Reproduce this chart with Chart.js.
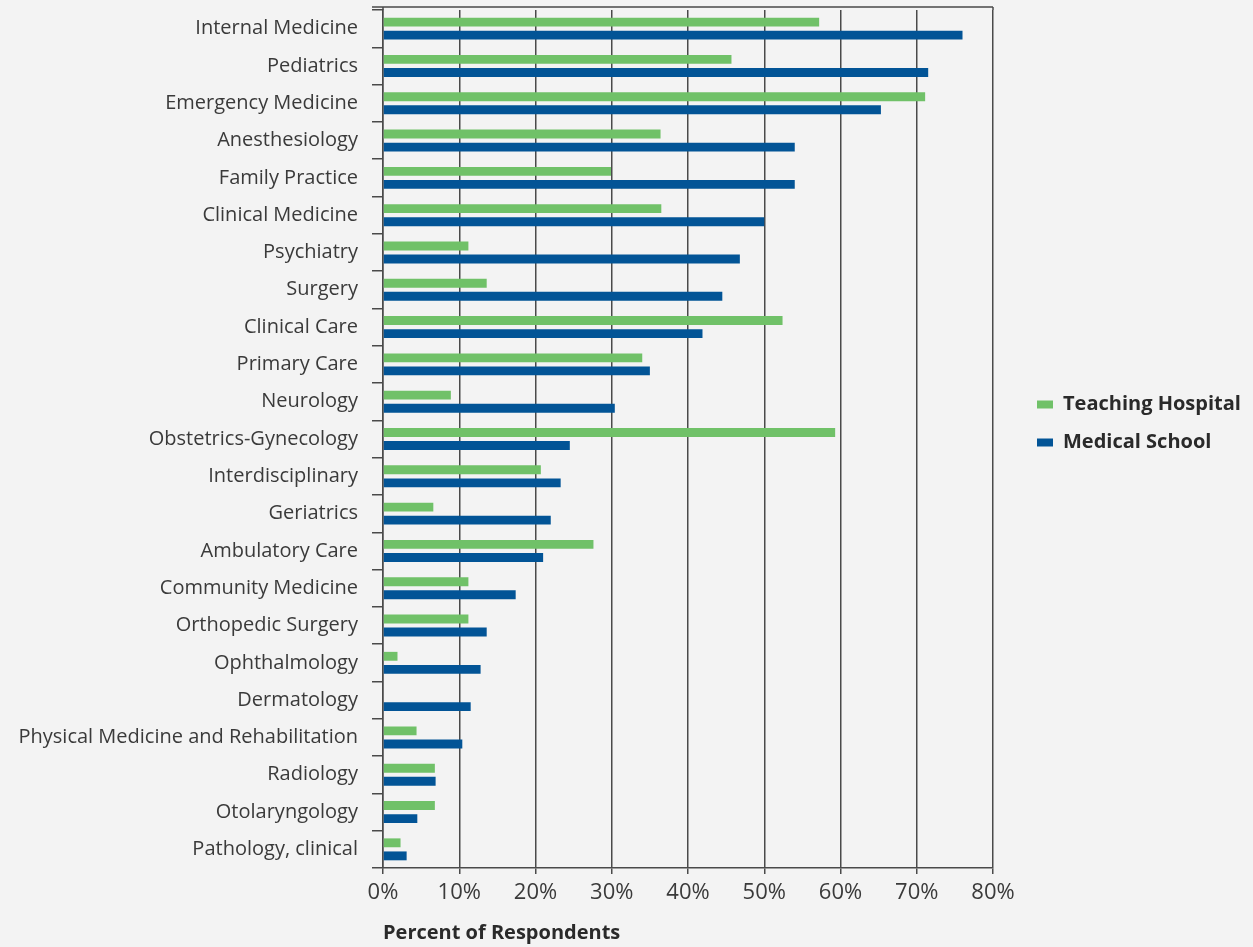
<!DOCTYPE html>
<html>
<head>
<meta charset="utf-8">
<title>Specialties by Respondent Type</title>
<script src="https://cdn.jsdelivr.net/npm/chart.js@4.4.0/dist/chart.umd.min.js"></script>
<style>
    html, body { margin: 0; padding: 0; background: #f3f3f3; }
    #wrap { width: 1253px; height: 947px; }
</style>
</head>
<body>
<div id="wrap"><canvas id="chart" width="1253" height="947"></canvas></div>
<script>
var specialties = [
    'Internal Medicine', 'Pediatrics', 'Emergency Medicine', 'Anesthesiology',
    'Family Practice', 'Clinical Medicine', 'Psychiatry', 'Surgery',
    'Clinical Care', 'Primary Care', 'Neurology', 'Obstetrics-Gynecology',
    'Interdisciplinary', 'Geriatrics', 'Ambulatory Care', 'Community Medicine',
    'Orthopedic Surgery', 'Ophthalmology', 'Dermatology',
    'Physical Medicine and Rehabilitation', 'Radiology', 'Otolaryngology',
    'Pathology, clinical'
];
var teachingHospital = [57.2, 45.7, 71.1, 36.4, 29.9, 36.5, 11.2, 13.6, 52.4, 34.0, 8.9, 59.3,
    20.7, 6.6, 27.6, 11.2, 11.2, 1.9, 0, 4.4, 6.8, 6.8, 2.3];
var medicalSchool = [76.0, 71.5, 65.3, 54.0, 54.0, 50.0, 46.8, 44.5, 41.9, 35.0, 30.4, 24.5,
    23.3, 22.0, 21.0, 17.4, 13.6, 12.8, 11.5, 10.4, 6.9, 4.5, 3.1];
var seriesNames = ['Teaching Hospital', 'Medical School'];
var xTicks = [0, 10, 20, 30, 40, 50, 60, 70, 80];

(function() {
    'use strict';

    var textColor = '#3a3a3a';
    var lineColor = '#4a4a4a';

    // top frame line, a little above the first band
    var topLine = {
        id: 'topLine',
        afterDraw: function(chart) {
            var a = chart.chartArea, ctx = chart.ctx;
            ctx.save();
            ctx.strokeStyle = lineColor;
            ctx.lineWidth = 1.5;
            ctx.beginPath();
            ctx.moveTo(a.left - 11, a.top - 3);
            ctx.lineTo(a.right, a.top - 3);
            ctx.moveTo(a.right, a.top - 3);
            ctx.lineTo(a.right, a.top);
            ctx.moveTo(a.left, a.top - 3);
            ctx.lineTo(a.left, a.top);
            ctx.stroke();
            ctx.restore();
        }
    };

    // nudge the legend away from the plot, a bit above middle
    var legendNudge = {
        id: 'legendNudge',
        afterLayout: function(chart) {
            var lg = chart.legend;
            if (!lg) return;
            lg.left += 26; lg.right += 26;
            lg.top -= 55; lg.bottom -= 55;
        }
    };

    function initChart() {
        new Chart(document.getElementById('chart').getContext('2d'), {
            type: 'bar',
            data: {
                labels: specialties,
                datasets: [
                    {
                        label: seriesNames[0],
                        data: teachingHospital,
                        backgroundColor: '#70c168',
                        categoryPercentage: 0.7,
                        barPercentage: 0.68
                    },
                    {
                        label: seriesNames[1],
                        data: medicalSchool,
                        backgroundColor: '#025496',
                        categoryPercentage: 0.7,
                        barPercentage: 0.68
                    }
                ]
            },
            options: {
                indexAxis: 'y',
                responsive: false,
                animation: false,
                layout: { padding: { top: 10, right: 5, left: 0, bottom: 0 } },
                scales: {
                    x: {
                        min: 0,
                        max: 80,
                        afterBuildTicks: function(axis) {
                            axis.ticks = xTicks.map(function(v) { return { value: v }; });
                        },
                        afterFit: function(axis) {
                            axis.height = 79;
                            axis.paddingRight = 260;
                        },
                        ticks: {
                            callback: function(v) { return v + '%'; },
                            color: textColor,
                            font: { family: 'Open Sans', size: 22 },
                            padding: 6
                        },
                        grid: { color: lineColor, lineWidth: 1.5, tickLength: 6 },
                        border: { color: lineColor, width: 1.5 },
                        title: {
                            display: true,
                            text: 'Percent of Respondents',
                            align: 'start',
                            color: '#2a2a2a',
                            font: { family: 'Open Sans', size: 20, weight: 'bold' },
                            padding: { top: 10, bottom: 2 }
                        }
                    },
                    y: {
                        afterFit: function(axis) {
                            axis.width = 383;
                            axis.paddingTop = 0;
                            axis.paddingBottom = 0;
                        },
                        ticks: {
                            color: textColor,
                            font: { family: 'Open Sans', size: 20 },
                            padding: 14,
                            autoSkip: false
                        },
                        grid: { drawOnChartArea: false, color: lineColor, lineWidth: 1.5, tickLength: 11 },
                        border: { color: lineColor, width: 1.5 }
                    }
                },
                plugins: {
                    legend: {
                        position: 'right',
                        labels: {
                            color: '#2a2a2a',
                            font: { family: 'Open Sans', size: 20, weight: 'bold' },
                            boxWidth: 16,
                            boxHeight: 8,
                            padding: 18
                        }
                    },
                    tooltip: { enabled: false }
                }
            },
            plugins: [topLine, legendNudge]
        });
    }

    // wait for the fonts so label widths are measured right
    if (document.fonts && document.fonts.load) {
        Promise.all([
            document.fonts.load('20px "Open Sans"'),
            document.fonts.load('bold 20px "Open Sans"')
        ]).then(initChart, initChart);
    } else {
        initChart();
    }
})();
</script>
</body>
</html>
